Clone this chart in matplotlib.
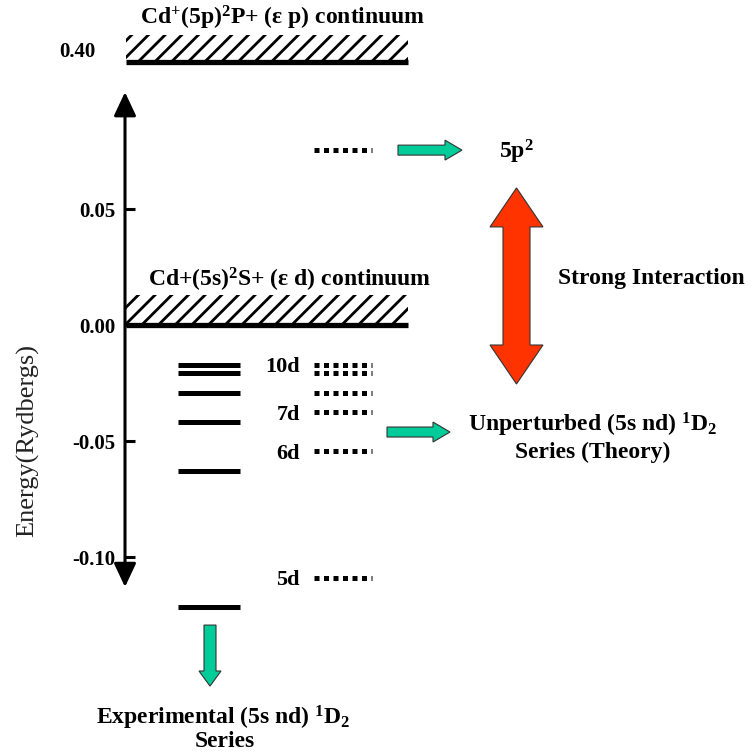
import matplotlib
matplotlib.use("Agg")
import matplotlib.pyplot as plt
from matplotlib.patches import Rectangle, FancyArrow, Polygon

plt.rcParams["font.family"] = ["Liberation Serif", "DejaVu Serif"]
plt.rcParams["font.weight"] = "bold"
plt.rcParams["mathtext.fontset"] = "custom"
plt.rcParams["mathtext.rm"] = "Liberation Serif:bold"
plt.rcParams["mathtext.it"] = "Liberation Serif:bold"
plt.rcParams["mathtext.bf"] = "Liberation Serif:bold"
plt.rcParams["mathtext.default"] = "rm"
plt.rcParams["hatch.linewidth"] = 2.0

# energies in Rydbergs (relative to the Cd+ 5s threshold)
exp_levels = [-0.0170, -0.0208, -0.0294, -0.0419, -0.0628, -0.1214]
theory_levels = [-0.0170, -0.0208, -0.0294, -0.0376, -0.0543, -0.1089]
theory_n = [10, 9, 8, 7, 6, 5]
labelled_n = [10, 7, 6, 5]
level_5p2 = 0.0754
threshold_5s = 0.0
threshold_5p_pos = 0.1134   # axis is broken: 0.40 Ry drawn here
threshold_5p_label = "0.40"
yticks = [-0.10, -0.05, 0.00, 0.05]
ytick_labels = ["-0.10", "-0.05", "0.00", "0.05"]

fig = plt.figure(figsize=(7.52, 7.55), dpi=100)
ax = fig.add_axes([0, 0, 1, 1])
ax.set_xlim(0, 752)
ax.set_ylim(-0.1853, 0.1401)
ax.patch.set_visible(False)
for s in ["top", "right", "bottom"]:
    ax.spines[s].set_visible(False)
ax.spines["left"].set_position(("data", 125))
ax.spines["left"].set_visible(False)
ax.set_xticks([])
ax.set_yticks(yticks)
ax.set_yticklabels(ytick_labels)
ax.tick_params(axis="y", direction="in", length=7.2, width=2.2, pad=7,
               labelsize=15)

# energy axis with arrow heads at both ends
ax.annotate("", xy=(125, 0.1004), xytext=(125, -0.1129),
            arrowprops=dict(arrowstyle="<|-|>,head_length=1.45,head_width=0.68",
                            lw=2.2, color="black", shrinkA=0, shrinkB=0))
ax.text(95, threshold_5p_pos + 0.002, threshold_5p_label, ha="right",
        va="baseline", fontsize=15)
ax.text(28, -0.0496, "Energy(Rydbergs)", rotation=90, ha="center",
        va="center", fontsize=19, fontweight="normal", color="#222222")

# continua (hatched)
for e0, h in [(threshold_5p_pos, 0.0116), (threshold_5s, 0.0129)]:
    ax.add_patch(Rectangle((126, e0), 282, h, facecolor="white",
                           edgecolor="black", lw=0, hatch="//"))
    ax.plot([126, 408], [e0, e0], color="black", lw=3.8,
            solid_capstyle="butt")
ax.text(283, 0.1297, r"Cd$^{+}$(5p)$^{2}$P+ (ε p) continuum",
        ha="center", va="baseline", fontsize=17)
ax.text(290, 0.0168, r"Cd+(5s)$^{2}$S+ (ε d) continuum",
        ha="center", va="baseline", fontsize=17)

# experimental levels
for e in exp_levels:
    ax.plot([178, 240], [e, e], color="black", lw=3.6, solid_capstyle="butt")

# unperturbed (theory) levels
for e, n in zip(theory_levels, theory_n):
    ax.plot([314, 372], [e, e], color="black", lw=3.6,
            linestyle=(0, (1, 0.9)), dash_capstyle="butt")
    if n in labelled_n:
        ax.text(300, e, f"{n}d", ha="right", va="center_baseline",
                fontsize=16)
ax.plot([314, 372], [level_5p2, level_5p2], color="black", lw=3.6,
        linestyle=(0, (1, 0.9)), dash_capstyle="butt")

green = "#00CC99"
ax.add_patch(FancyArrow(398, level_5p2, 64, 0, width=0.0043,
                        head_width=0.0086, head_length=17,
                        length_includes_head=True, facecolor=green,
                        edgecolor="#333333", lw=0.8))
ax.add_patch(FancyArrow(387, -0.0461, 63, 0, width=0.0043,
                        head_width=0.0086, head_length=17,
                        length_includes_head=True, facecolor=green,
                        edgecolor="#333333", lw=0.8))
ax.add_patch(FancyArrow(210, -0.1293, 0, -0.0263, width=12,
                        head_width=22, head_length=0.0065,
                        length_includes_head=True, facecolor=green,
                        edgecolor="#333333", lw=0.8))

# strong interaction double arrow
xc, top, bot = 516.5, 0.0591, -0.0254
bw, hw, hl = 13.5, 26.5, 0.0168
verts = [(xc, top), (xc + hw, top - hl), (xc + bw, top - hl),
         (xc + bw, bot + hl), (xc + hw, bot + hl), (xc, bot),
         (xc - hw, bot + hl), (xc - bw, bot + hl), (xc - bw, top - hl),
         (xc - hw, top - hl)]
ax.add_patch(Polygon(verts, closed=True, facecolor="#FF3300",
                     edgecolor="#333333", lw=0.8))

ax.text(499, 0.0720, r"5p$^{2}$", ha="left", va="baseline", fontsize=17)
ax.text(558, 0.0177, "Strong Interaction", ha="left", va="baseline",
        fontsize=17)
ax.text(593, -0.0457, r"Unperturbed (5s nd) $^{1}$D$_{2}$", ha="center",
        va="baseline", fontsize=17)
ax.text(593, -0.0573, "Series (Theory)", ha="center", va="baseline",
        fontsize=17)
ax.text(223, -0.1720, r"Experimental (5s nd) $^{1}$D$_{2}$", ha="center",
        va="baseline", fontsize=17)
ax.text(225, -0.1819, "Series", ha="center", va="baseline", fontsize=17)

fig.savefig("out.png", dpi=100)
